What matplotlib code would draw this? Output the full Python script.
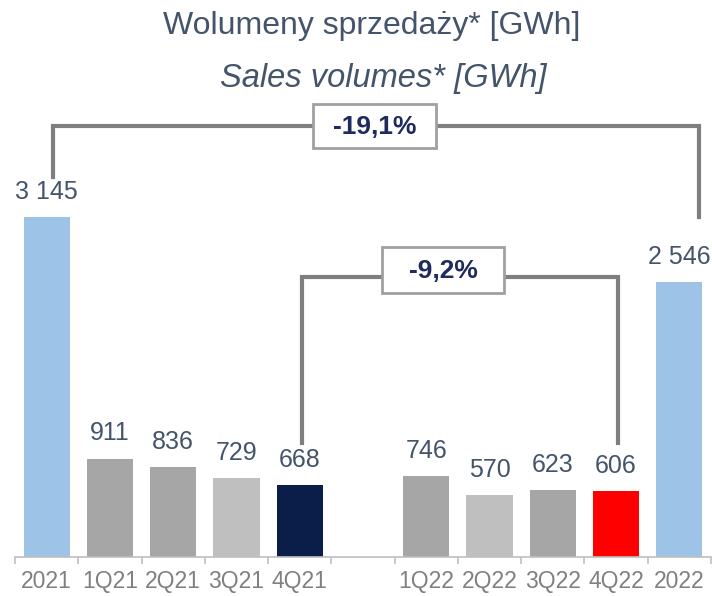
import matplotlib.pyplot as plt
from matplotlib.patches import Rectangle

plt.rcParams['font.family'] = ['Liberation Sans', 'DejaVu Sans']

categories = ['2021', '1Q21', '2Q21', '3Q21', '4Q21', '',
              '1Q22', '2Q22', '3Q22', '4Q22', '2022']
values = [3145, 911, 836, 729, 668, None, 746, 570, 623, 606, 2546]
labels = ['3 145', '911', '836', '729', '668', '',
          '746', '570', '623', '606', '2 546']
colors = ['#9DC3E6', '#A6A6A6', '#A6A6A6', '#BFBFBF', '#0B1E4A', 'none',
          '#A6A6A6', '#BFBFBF', '#A6A6A6', '#FF0000', '#9DC3E6']
change_year = '-19,1%'
change_q4 = '-9,2%'

TEXT = '#44546A'
LINE = '#7F7F7F'
NAVY = '#1F2A5E'

W, H = 712, 596
fig = plt.figure(figsize=(W / 100, H / 100), dpi=100)
base_px = 557
ax = fig.add_axes([15 / W, (H - base_px) / H, 696 / W, base_px / H])

# 0.1081 px per GWh -> ylim covers the full height above the baseline
scale = 0.1081
step = 696 / len(categories)
ax.set_ylim(0, base_px / scale)
ax.set_xlim(-0.5, len(categories) - 0.5)


def py(p):
    # pixel row in the image -> data value
    return (base_px - p) / scale


def px(p):
    # pixel column in the image -> data x
    return (p - 15) / step - 0.5


xs = list(range(len(categories)))
for x, v, lab, c in zip(xs, values, labels, colors):
    if v is None:
        continue
    ax.bar(x, v, width=0.73, color=c, zorder=2)
    ax.annotate(lab, (x, v), xytext=(0, 13), textcoords='offset points',
                ha='center', va='baseline', fontsize=18, color=TEXT)

# axis styling
for s in ['top', 'right', 'left']:
    ax.spines[s].set_visible(False)
ax.spines['bottom'].set_color('#BFBFBF')
ax.spines['bottom'].set_linewidth(1.2)
ax.set_yticks([])
ax.set_xticks([x - 0.5 for x in xs] + [len(xs) - 0.5], minor=True)
ax.set_xticks(xs)
ax.set_xticklabels(categories, fontsize=16.5, color='#808080')
ax.tick_params(axis='x', which='major', length=0, pad=9.5)
ax.tick_params(axis='x', which='minor', length=5, color='#BFBFBF', width=1.2)

# brackets
lw = 3
ax.plot([px(53), px(53), px(699), px(699)], [py(177), py(126), py(126), py(217)],
        color=LINE, lw=lw, solid_joinstyle='miter', zorder=1, clip_on=False)
ax.plot([px(302), px(302), px(618), px(618)], [py(443), py(277), py(277), py(443)],
        color=LINE, lw=lw, solid_joinstyle='miter', zorder=1, clip_on=False)


def change_box(x0, x1, y0, y1, txt):
    ax.add_patch(Rectangle((px(x0), py(y1)), px(x1) - px(x0), py(y0) - py(y1),
                           fc='white', ec='#A0A0A0', lw=2, zorder=3))
    ax.text(px((x0 + x1) / 2), py((y0 + y1) / 2 + 1), txt, ha='center',
            va='center', fontsize=19, fontweight='bold', color=NAVY, zorder=4)


change_box(313, 436, 104, 148, change_year)
change_box(382, 504, 247, 293, change_q4)

# titles
fig.text(371.5 / W, 1 - 26 / H, 'Wolumeny sprzedaży* [GWh]', ha='center',
         va='center', fontsize=23, color=TEXT)
fig.text(383.5 / W, 1 - 79 / H, 'Sales volumes* [GWh]', ha='center',
         va='center', fontsize=23.5, color=TEXT, style='italic')

fig.savefig('out.png', dpi=100)
